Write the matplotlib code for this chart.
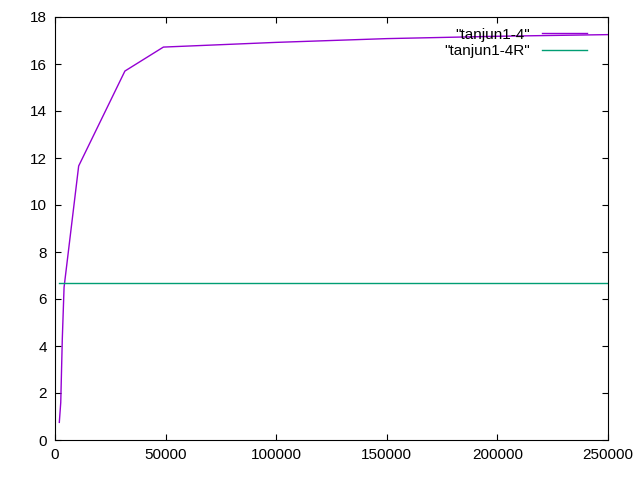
import matplotlib
matplotlib.use("Agg")
import matplotlib.pyplot as plt

# series "tanjun1-4"
x_main = [1950, 2600, 3300, 4100, 10700, 31600, 49000, 100000, 150000, 200000, 250000]
y_main = [0.75, 1.6, 4.3, 6.5, 11.66, 15.7, 16.72, 16.92, 17.08, 17.18, 17.25]

# series "tanjun1-4R"
x_ref = [1950, 250000]
y_ref = [6.67, 6.67]

xticks = [0, 50000, 100000, 150000, 200000, 250000]
yticks = [0, 2, 4, 6, 8, 10, 12, 14, 16, 18]

plt.rcParams["font.family"] = ["Liberation Sans", "DejaVu Sans"]

fig = plt.figure(figsize=(6.4, 4.8), dpi=100)
ax = fig.add_axes([55 / 640, 40 / 480, 553 / 640, 423 / 480])

ax.plot(x_main, y_main, color="#9400d3", lw=1.0, label='"tanjun1-4"')
ax.plot(x_ref, y_ref, color="#009e73", lw=1.0, label='"tanjun1-4R"')

ax.set_xlim(0, 250000)
ax.set_ylim(0, 18)
ax.set_xticks(xticks)
ax.set_yticks(yticks)
ax.tick_params(direction="in", length=4.5, width=0.8, labelsize=11,
               top=True, right=True, pad=6)
for s in ax.spines.values():
    s.set_linewidth(0.8)

ax.legend(loc="upper right", bbox_to_anchor=(0.982, 1.0), frameon=False,
          markerfirst=False, fontsize=11, handlelength=2.94,
          handletextpad=0.8, labelspacing=0.15, borderaxespad=0.3)

fig.savefig("out.png", dpi=100)
